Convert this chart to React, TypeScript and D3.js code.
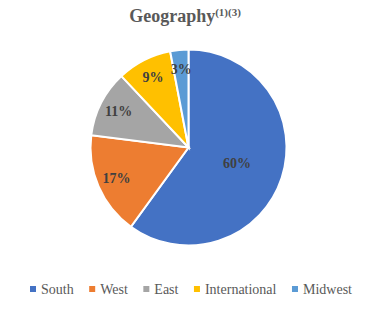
import React, { useEffect, useRef } from "react";
import * as d3 from "d3";

const categories = ["South", "West", "East", "International", "Midwest"];
const values = [60, 17, 11, 9, 3];
const colors = ["#4472C4", "#ED7D31", "#A5A5A5", "#FFC000", "#5B9BD5"];

const W = 371;
const H = 316;
const SERIF = "'Liberation Serif', 'Times New Roman', 'DejaVu Serif', serif";

export default function App() {
  const legendRef = useRef<SVGGElement>(null);
  const cx = 188.5;
  const cy = 147.5;
  const r = 98;

  const pie = d3.pie<number>().sort(null).value((d) => d);
  const arcs = pie(values);
  const arcGen = d3.arc<d3.PieArcDatum<number>>().innerRadius(0).outerRadius(r);

  useEffect(() => {
    const g = d3.select(legendRef.current);
    let x = 30;
    g.selectAll("g.item").each(function () {
      const item = d3.select(this as SVGGElement);
      item.attr("transform", `translate(${x},0)`);
      const t = item.select("text").node() as SVGTextElement;
      const w = t.getComputedTextLength();
      x += 11 + w + 15.5;
    });
  }, []);

  return (
    <svg width={W} height={H} style={{ position: "absolute", left: 0, top: 0 }}>
      <rect width={W} height={H} fill="#fff" />
      <text
        x={185}
        y={22}
        textAnchor="middle"
        style={{ fontFamily: SERIF }}
        fontWeight="bold"
        fontSize={18}
        fill="#595959"
      >
        Geography
        <tspan fontSize={11} dy={-6}>(1)(3)</tspan>
      </text>
      <g transform={`translate(${cx},${cy})`}>
        {arcs.map((a, i) => (
          <path key={i} d={arcGen(a) || ""} fill={colors[i]} stroke="#fff" strokeWidth={2} />
        ))}
        {arcs.map((a, i) => {
          const lr = a.data > 50 ? r * 0.52 : r * 0.8;
          const c = d3.arc<d3.PieArcDatum<number>>().innerRadius(lr).outerRadius(lr).centroid(a);
          return (
            <text
              key={"l" + i}
              x={c[0]}
              y={c[1]}
              textAnchor="middle"
              dominantBaseline="central"
              style={{ fontFamily: SERIF }}
              fontWeight="bold"
              fontSize={14}
              fill="#404040"
            >
              {a.data}%
            </text>
          );
        })}
      </g>
      <g ref={legendRef} transform="translate(0,289)">
        {categories.map((c, i) => (
          <g className="item" key={c}>
            <rect x={0} y={-3} width={6} height={6} fill={colors[i]} />
            <text
              x={11}
              y={0}
              dominantBaseline="central"
              style={{ fontFamily: SERIF }}
              fontSize={14}
              fill="#595959"
            >
              {c}
            </text>
          </g>
        ))}
      </g>
    </svg>
  );
}
